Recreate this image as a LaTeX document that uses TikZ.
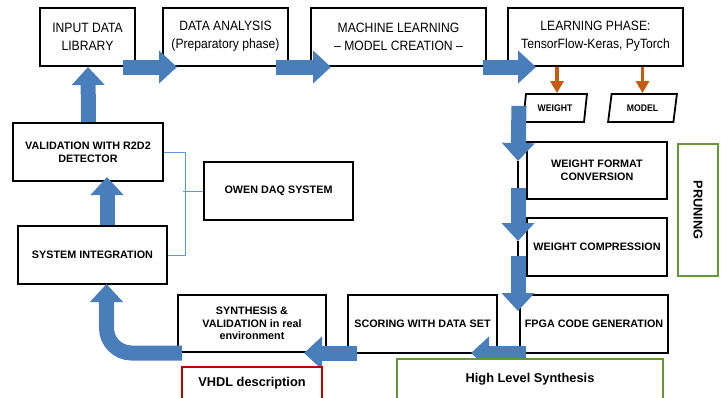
\documentclass[tikz,border=0pt]{standalone}
\usepackage{fontspec}
\setmainfont{Liberation Sans}
\newfontfamily\condfont[FakeStretch=0.9]{Liberation Sans}
\usetikzlibrary{arrows.meta,calc,shapes.geometric}
\definecolor{arrowblue}{RGB}{74,126,187}
\definecolor{orng}{RGB}{197,90,17}
\definecolor{grn}{RGB}{100,150,60}
\definecolor{rd}{RGB}{192,0,0}
\definecolor{thinblue}{RGB}{91,155,213}
\begin{document}
\begin{tikzpicture}[x=1pt,y=-1pt,
  box/.style={draw, line width=2pt, fill=white, align=center, inner sep=2pt},
  toptext/.style={font=\condfont\fontsize{13.5}{18}\selectfont},
  boldtext/.style={font=\bfseries\fontsize{10.8}{13}\selectfont},
  tagbox/.style={draw, line width=1.8pt, fill=white, trapezium, trapezium left angle=78, trapezium right angle=102, trapezium stretches=true, inner sep=1pt, font=\condfont\bfseries\fontsize{9.6}{11}\selectfont},
  blk/.style={line width=15pt, arrowblue, -{Triangle[width=32pt,length=18pt]}},
  orarrow/.style={line width=3.5pt, orng, -{Triangle[width=13pt,length=12pt]}},
  thin/.style={thinblue, line width=1pt},
  framebox/.style={line width=2.5pt, fill=white, align=center, font=\bfseries\fontsize{12.8}{15}\selectfont}
]
\useasboundingbox (0,0) rectangle (722,397);

% top row
\node[box,toptext,minimum width=95pt,minimum height=58pt] (inp) at (87.5,36.5) {INPUT DATA\\LIBRARY};
\node[box,toptext,minimum width=125pt,minimum height=58pt] (da) at (225.5,36.5) {DATA ANALYSIS\\(Preparatory phase)};
\node[box,toptext,minimum width=175pt,minimum height=58pt] (ml) at (398.5,36.5) {MACHINE LEARNING\\– MODEL CREATION –};
\node[box,toptext,minimum width=175pt,minimum height=58pt] (lp) at (595.5,36.5) {LEARNING PHASE:\\TensorFlow-Keras, PyTorch};

% tags
\node[tagbox,minimum width=64pt,minimum height=28pt] (weight) at (555,108) {WEIGHT};
\node[tagbox,minimum width=69pt,minimum height=28pt] (model) at (642.5,108) {MODEL};

% right column
\node[box,boldtext,minimum width=140pt,minimum height=57pt] (wfc) at (597,170.5) {WEIGHT FORMAT\\CONVERSION};
\node[box,boldtext,minimum width=140pt,minimum height=58pt] (wc) at (597,247) {WEIGHT COMPRESSION};
\node[box,boldtext,minimum width=148pt,minimum height=58pt] (fpga) at (594,324) {FPGA CODE GENERATION};

% bottom row
\node[box,boldtext,minimum width=149pt,minimum height=58pt] (scor) at (422.5,324) {SCORING WITH DATA SET};
\node[box,boldtext,minimum width=148pt,minimum height=57pt,font=\bfseries\fontsize{10.8}{12.5}\selectfont] (synth) at (252,323.5) {SYNTHESIS \&\\VALIDATION in real\\environment};

% left column
\node[box,boldtext,minimum width=149pt,minimum height=58pt] (si) at (92.5,255) {SYSTEM INTEGRATION};
\node[box,boldtext,minimum width=150pt,minimum height=58pt] (val) at (88,152) {VALIDATION WITH R2D2\\DETECTOR};
\node[box,boldtext,minimum width=149pt,minimum height=58pt] (owen) at (278.5,191) {OWEN DAQ SYSTEM};

% pruning
\node[framebox,draw=grn,rotate=-90,minimum width=132pt,minimum height=40pt] (prun) at (698,210) {PRUNING};

% thin connectors
\draw[thin] (val.east) -- ++(21,0) |- (si.east);
\draw[thin] (owen.west) -- ++(-20,0);

% black guide lines
\coordinate (t1) at ($(wfc.north west)+(-8,20)$);
\coordinate (t2) at ($(wc.north west)+(-8,24)$);
\draw[line width=1.5pt] (t1) -- ($(wc.north west)+(-8,0)$);
\draw[line width=1.5pt] (t2) -- ($(wc.south west)+(-8,-10)$);

% orange arrows
\draw[orarrow] ($(lp.south -| weight.north)+(2,0)$) -- ($(weight.north)+(2,0)$);
\draw[orarrow] (lp.south -| model.north) -- (model.north);

% blue block arrows
\draw[blk] ($(inp.south east)+(-13,0.5)$) -- ($(da.south west)+(15,0.5)$);
\draw[blk] ($(da.south east)+(-13,0.5)$) -- ($(ml.south west)+(21,0.5)$);
\draw[blk] ($(ml.south east)+(-4,0.5)$) -- ($(lp.south west)+(29,0.5)$);
\draw[blk] ($(weight.center)+(-36,-2)$) -- (t1);
\draw[blk] ($(wfc.south west)+(-8,-12)$) -- (t2);
\draw[blk] ($(wc.south west)+(-8,-21)$) -- ($(fpga.north west)+(-1,17)$);
\draw[blk] ($(fpga.south west)+(7,-1)$) -- ($(scor.south east)+(-27,-1)$);
\draw[blk] ($(scor.south west)+(10,-1)$) -- ($(synth.south east)+(-23,0)$);
\draw[blk, rounded corners=25pt] ($(synth.south west)+(5,0)$) -| ($(si.south)+(14,-1)$);
\draw[blk] ($(si.north)+(14.5,0)$) -- ($(val.south)+(19,-5)$);
\draw[blk] ($(val.north)+(0.5,0)$) -- ($(inp.south)+(0.5,0.5)$);

% bottom frames
\node[framebox,draw=grn,minimum width=266pt,minimum height=40pt] (hls) at (530,379) {High Level Synthesis};
\node[framebox,draw=rd,minimum width=140pt,minimum height=32pt] (vhdl) at (252,383) {VHDL description};
\end{tikzpicture}
\end{document}
